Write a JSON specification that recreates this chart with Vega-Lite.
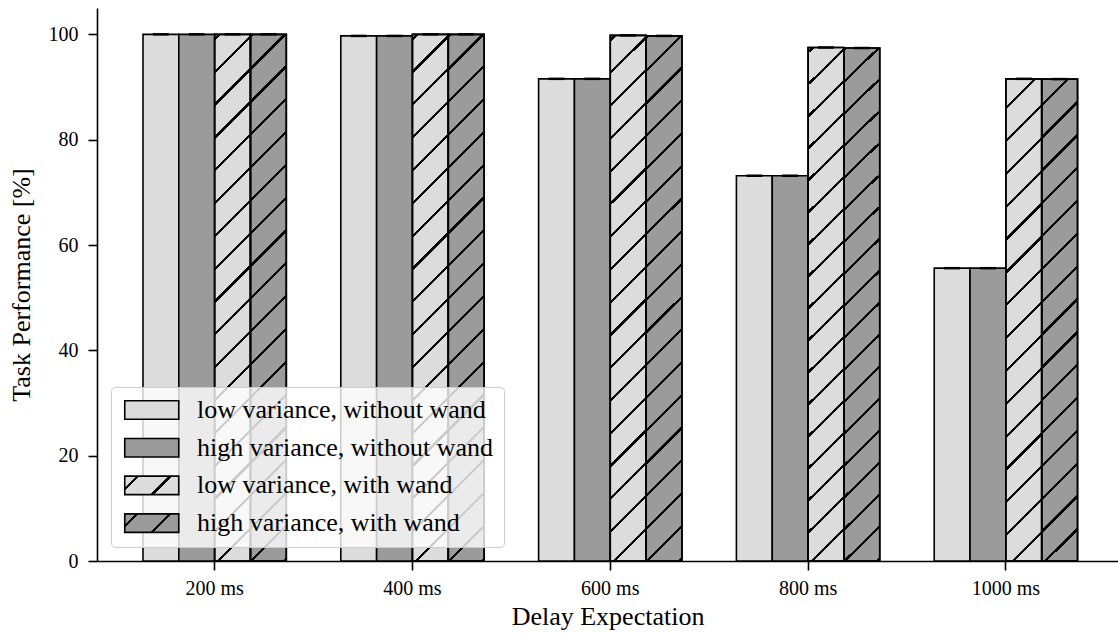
{
  "$schema": "https://vega.github.io/schema/vega-lite/v6.json",
  "width": 1021,
  "height": 553,
  "autosize": {"type": "none"},
  "padding": {"left": 97, "top": 8, "right": 0, "bottom": 74},
  "background": "white",
  "config": {
    "view": {"stroke": null},
    "font": "Liberation Serif",
    "axis": {"domainColor": "black", "domainWidth": 1.6, "tickColor": "black", "tickWidth": 1.6, "tickSize": 9, "labelFont": "Liberation Serif", "labelFontSize": 20, "labelColor": "black", "titleFont": "Liberation Serif", "titleFontSize": 26, "titleFontWeight": "normal", "titleColor": "black", "grid": false}
  },
  "data": {"values": [
    {"delay": "200 ms", "series": "low variance, without wand", "variance": "low", "wand": "without", "value": 100},
    {"delay": "200 ms", "series": "high variance, without wand", "variance": "high", "wand": "without", "value": 100},
    {"delay": "200 ms", "series": "low variance, with wand", "variance": "low", "wand": "with", "value": 100},
    {"delay": "200 ms", "series": "high variance, with wand", "variance": "high", "wand": "with", "value": 100},
    {"delay": "400 ms", "series": "low variance, without wand", "variance": "low", "wand": "without", "value": 99.7},
    {"delay": "400 ms", "series": "high variance, without wand", "variance": "high", "wand": "without", "value": 99.7},
    {"delay": "400 ms", "series": "low variance, with wand", "variance": "low", "wand": "with", "value": 100},
    {"delay": "400 ms", "series": "high variance, with wand", "variance": "high", "wand": "with", "value": 100},
    {"delay": "600 ms", "series": "low variance, without wand", "variance": "low", "wand": "without", "value": 91.55},
    {"delay": "600 ms", "series": "high variance, without wand", "variance": "high", "wand": "without", "value": 91.55},
    {"delay": "600 ms", "series": "low variance, with wand", "variance": "low", "wand": "with", "value": 99.8},
    {"delay": "600 ms", "series": "high variance, with wand", "variance": "high", "wand": "with", "value": 99.7},
    {"delay": "800 ms", "series": "low variance, without wand", "variance": "low", "wand": "without", "value": 73.15},
    {"delay": "800 ms", "series": "high variance, without wand", "variance": "high", "wand": "without", "value": 73.15},
    {"delay": "800 ms", "series": "low variance, with wand", "variance": "low", "wand": "with", "value": 97.5},
    {"delay": "800 ms", "series": "high variance, with wand", "variance": "high", "wand": "with", "value": 97.4},
    {"delay": "1000 ms", "series": "low variance, without wand", "variance": "low", "wand": "without", "value": 55.6},
    {"delay": "1000 ms", "series": "high variance, without wand", "variance": "high", "wand": "without", "value": 55.6},
    {"delay": "1000 ms", "series": "low variance, with wand", "variance": "low", "wand": "with", "value": 91.55},
    {"delay": "1000 ms", "series": "high variance, with wand", "variance": "high", "wand": "with", "value": 91.5}
  ]},
  "encoding": {
    "x": {"field": "delay", "type": "nominal", "scale": {"domain": ["200 ms", "400 ms", "600 ms", "800 ms", "1000 ms"], "paddingInner": 0.2754, "paddingOuter": 0.2185, "align": 0.532}, "axis": {"title": "Delay Expectation", "labelAngle": 0, "labelPadding": 8, "titlePadding": 5}},
    "xOffset": {"field": "series", "type": "nominal", "scale": {"domain": ["low variance, without wand", "high variance, without wand", "low variance, with wand", "high variance, with wand"], "paddingInner": 0, "paddingOuter": 0}},
    "y": {"field": "value", "type": "quantitative", "scale": {"domain": [0, 105], "nice": false}, "axis": {"title": "Task Performance [%]", "values": [0, 20, 40, 60, 80, 100], "labelPadding": 10, "titlePadding": 14}}
  },
  "layer": [
    {
      "mark": {"type": "bar", "stroke": "black", "strokeWidth": 1.6},
      "encoding": {
        "fill": {"field": "variance", "type": "nominal", "scale": {"domain": ["low", "high"], "range": ["#dcdcdc", "#9b9b9b"]}, "legend": null},
        "opacity": {
          "field": "series", "type": "nominal",
          "scale": {"type": "ordinal", "domain": ["low variance, without wand", "high variance, without wand", "low variance, with wand", "high variance, with wand"], "range": [1, 1, 1, 1]},
          "legend": {
            "title": null, "orient": "bottom-left", "offset": 14, "padding": 10,
            "fillColor": "rgba(255,255,255,0.8)", "strokeColor": "#cccccc", "cornerRadius": 4,
            "labelFont": "Liberation Serif", "labelFontSize": 26, "labelColor": "black", "labelLimit": 600,
            "symbolType": "M-1,-1H4.838V1H-1Z", "symbolSize": 342.25, "symbolStrokeColor": "black", "symbolStrokeWidth": 1.6,
            "labelOffset": 50, "rowPadding": 11.7,
            "symbolFillColor": {"expr": "datum.value === 'low variance, with wand' ? {gradient: 'linear', x1: 0, y1: 0, x2: 1.2017, y2: 0.41166, stops: [{offset: 0, color: '#dcdcdc'}, {offset: 0.1534, color: '#dcdcdc'}, {offset: 0.1534, color: '#000'}, {offset: 0.1975, color: '#000'}, {offset: 0.1975, color: '#dcdcdc'}, {offset: 0.6066, color: '#dcdcdc'}, {offset: 0.6066, color: '#000'}, {offset: 0.6507, color: '#000'}, {offset: 0.6507, color: '#dcdcdc'}, {offset: 1, color: '#dcdcdc'}]} : datum.value === 'high variance, with wand' ? {gradient: 'linear', x1: 0, y1: 0, x2: 1.2017, y2: 0.41166, stops: [{offset: 0, color: '#9b9b9b'}, {offset: 0.1534, color: '#9b9b9b'}, {offset: 0.1534, color: '#000'}, {offset: 0.1975, color: '#000'}, {offset: 0.1975, color: '#9b9b9b'}, {offset: 0.6066, color: '#9b9b9b'}, {offset: 0.6066, color: '#000'}, {offset: 0.6507, color: '#000'}, {offset: 0.6507, color: '#9b9b9b'}, {offset: 1, color: '#9b9b9b'}]} : datum.value === 'low variance, without wand' ? '#dcdcdc' : '#9b9b9b'"}
          }
        }
      }
    },
    {
      "transform": [{"filter": "datum.wand === 'with'"}],
      "mark": {"type": "bar", "stroke": "black", "strokeWidth": 1.6},
      "encoding": {
        "fill": {
          "condition": [
            {"test": "datum.delay === '1000 ms' && datum.variance === 'low'", "value": {"gradient": "linear", "x1": 0, "y1": 0, "x2": 0.07941, "y2": 1.06842, "stops": [
              {"offset": 0, "color": "rgba(0,0,0,0)"},
              {"offset": 0.05376, "color": "rgba(0,0,0,0)"}, {"offset": 0.05376, "color": "#000"}, {"offset": 0.05994, "color": "#000"}, {"offset": 0.05994, "color": "rgba(0,0,0,0)"},
              {"offset": 0.11718, "color": "rgba(0,0,0,0)"}, {"offset": 0.11718, "color": "#000"}, {"offset": 0.12336, "color": "#000"}, {"offset": 0.12336, "color": "rgba(0,0,0,0)"},
              {"offset": 0.1806, "color": "rgba(0,0,0,0)"}, {"offset": 0.1806, "color": "#000"}, {"offset": 0.18678, "color": "#000"}, {"offset": 0.18678, "color": "rgba(0,0,0,0)"},
              {"offset": 0.24401, "color": "rgba(0,0,0,0)"}, {"offset": 0.24401, "color": "#000"}, {"offset": 0.25019, "color": "#000"}, {"offset": 0.25019, "color": "rgba(0,0,0,0)"},
              {"offset": 0.30743, "color": "rgba(0,0,0,0)"}, {"offset": 0.30743, "color": "#000"}, {"offset": 0.31361, "color": "#000"}, {"offset": 0.31361, "color": "rgba(0,0,0,0)"},
              {"offset": 0.37085, "color": "rgba(0,0,0,0)"}, {"offset": 0.37085, "color": "#000"}, {"offset": 0.37703, "color": "#000"}, {"offset": 0.37703, "color": "rgba(0,0,0,0)"},
              {"offset": 0.43426, "color": "rgba(0,0,0,0)"}, {"offset": 0.43426, "color": "#000"}, {"offset": 0.44044, "color": "#000"}, {"offset": 0.44044, "color": "rgba(0,0,0,0)"},
              {"offset": 0.49768, "color": "rgba(0,0,0,0)"}, {"offset": 0.49768, "color": "#000"}, {"offset": 0.50386, "color": "#000"}, {"offset": 0.50386, "color": "rgba(0,0,0,0)"},
              {"offset": 0.5611, "color": "rgba(0,0,0,0)"}, {"offset": 0.5611, "color": "#000"}, {"offset": 0.56728, "color": "#000"}, {"offset": 0.56728, "color": "rgba(0,0,0,0)"},
              {"offset": 0.62451, "color": "rgba(0,0,0,0)"}, {"offset": 0.62451, "color": "#000"}, {"offset": 0.63069, "color": "#000"}, {"offset": 0.63069, "color": "rgba(0,0,0,0)"},
              {"offset": 0.68793, "color": "rgba(0,0,0,0)"}, {"offset": 0.68793, "color": "#000"}, {"offset": 0.69411, "color": "#000"}, {"offset": 0.69411, "color": "rgba(0,0,0,0)"},
              {"offset": 0.75135, "color": "rgba(0,0,0,0)"}, {"offset": 0.75135, "color": "#000"}, {"offset": 0.75753, "color": "#000"}, {"offset": 0.75753, "color": "rgba(0,0,0,0)"},
              {"offset": 0.81476, "color": "rgba(0,0,0,0)"}, {"offset": 0.81476, "color": "#000"}, {"offset": 0.82094, "color": "#000"}, {"offset": 0.82094, "color": "rgba(0,0,0,0)"},
              {"offset": 0.87818, "color": "rgba(0,0,0,0)"}, {"offset": 0.87818, "color": "#000"}, {"offset": 0.88436, "color": "#000"}, {"offset": 0.88436, "color": "rgba(0,0,0,0)"},
              {"offset": 0.9416, "color": "rgba(0,0,0,0)"}, {"offset": 0.9416, "color": "#000"}, {"offset": 0.94778, "color": "#000"}, {"offset": 0.94778, "color": "rgba(0,0,0,0)"},
              {"offset": 1, "color": "rgba(0,0,0,0)"}]}},
            {"test": "datum.delay === '1000 ms'", "value": {"gradient": "linear", "x1": 0, "y1": 0, "x2": 0.07941, "y2": 1.06842, "stops": [
              {"offset": 0, "color": "rgba(0,0,0,0)"},
              {"offset": 0.04701, "color": "rgba(0,0,0,0)"}, {"offset": 0.04701, "color": "#000"}, {"offset": 0.05319, "color": "#000"}, {"offset": 0.05319, "color": "rgba(0,0,0,0)"},
              {"offset": 0.11043, "color": "rgba(0,0,0,0)"}, {"offset": 0.11043, "color": "#000"}, {"offset": 0.11661, "color": "#000"}, {"offset": 0.11661, "color": "rgba(0,0,0,0)"},
              {"offset": 0.17384, "color": "rgba(0,0,0,0)"}, {"offset": 0.17384, "color": "#000"}, {"offset": 0.18002, "color": "#000"}, {"offset": 0.18002, "color": "rgba(0,0,0,0)"},
              {"offset": 0.23726, "color": "rgba(0,0,0,0)"}, {"offset": 0.23726, "color": "#000"}, {"offset": 0.24344, "color": "#000"}, {"offset": 0.24344, "color": "rgba(0,0,0,0)"},
              {"offset": 0.30068, "color": "rgba(0,0,0,0)"}, {"offset": 0.30068, "color": "#000"}, {"offset": 0.30686, "color": "#000"}, {"offset": 0.30686, "color": "rgba(0,0,0,0)"},
              {"offset": 0.36409, "color": "rgba(0,0,0,0)"}, {"offset": 0.36409, "color": "#000"}, {"offset": 0.37027, "color": "#000"}, {"offset": 0.37027, "color": "rgba(0,0,0,0)"},
              {"offset": 0.42751, "color": "rgba(0,0,0,0)"}, {"offset": 0.42751, "color": "#000"}, {"offset": 0.43369, "color": "#000"}, {"offset": 0.43369, "color": "rgba(0,0,0,0)"},
              {"offset": 0.49093, "color": "rgba(0,0,0,0)"}, {"offset": 0.49093, "color": "#000"}, {"offset": 0.49711, "color": "#000"}, {"offset": 0.49711, "color": "rgba(0,0,0,0)"},
              {"offset": 0.55434, "color": "rgba(0,0,0,0)"}, {"offset": 0.55434, "color": "#000"}, {"offset": 0.56052, "color": "#000"}, {"offset": 0.56052, "color": "rgba(0,0,0,0)"},
              {"offset": 0.61776, "color": "rgba(0,0,0,0)"}, {"offset": 0.61776, "color": "#000"}, {"offset": 0.62394, "color": "#000"}, {"offset": 0.62394, "color": "rgba(0,0,0,0)"},
              {"offset": 0.68118, "color": "rgba(0,0,0,0)"}, {"offset": 0.68118, "color": "#000"}, {"offset": 0.68736, "color": "#000"}, {"offset": 0.68736, "color": "rgba(0,0,0,0)"},
              {"offset": 0.74459, "color": "rgba(0,0,0,0)"}, {"offset": 0.74459, "color": "#000"}, {"offset": 0.75077, "color": "#000"}, {"offset": 0.75077, "color": "rgba(0,0,0,0)"},
              {"offset": 0.80801, "color": "rgba(0,0,0,0)"}, {"offset": 0.80801, "color": "#000"}, {"offset": 0.81419, "color": "#000"}, {"offset": 0.81419, "color": "rgba(0,0,0,0)"},
              {"offset": 0.87143, "color": "rgba(0,0,0,0)"}, {"offset": 0.87143, "color": "#000"}, {"offset": 0.87761, "color": "#000"}, {"offset": 0.87761, "color": "rgba(0,0,0,0)"},
              {"offset": 0.93484, "color": "rgba(0,0,0,0)"}, {"offset": 0.93484, "color": "#000"}, {"offset": 0.94102, "color": "#000"}, {"offset": 0.94102, "color": "rgba(0,0,0,0)"},
              {"offset": 1, "color": "rgba(0,0,0,0)"}]}},
            {"test": "datum.variance === 'low'", "value": {"gradient": "linear", "x1": 0, "y1": 0, "x2": 0.07232, "y2": 1.06311, "stops": [
              {"offset": 0, "color": "rgba(0,0,0,0)"},
              {"offset": 0.00595, "color": "rgba(0,0,0,0)"}, {"offset": 0.00595, "color": "#000"}, {"offset": 0.01164, "color": "#000"}, {"offset": 0.01164, "color": "rgba(0,0,0,0)"},
              {"offset": 0.06431, "color": "rgba(0,0,0,0)"}, {"offset": 0.06431, "color": "#000"}, {"offset": 0.07, "color": "#000"}, {"offset": 0.07, "color": "rgba(0,0,0,0)"},
              {"offset": 0.12267, "color": "rgba(0,0,0,0)"}, {"offset": 0.12267, "color": "#000"}, {"offset": 0.12836, "color": "#000"}, {"offset": 0.12836, "color": "rgba(0,0,0,0)"},
              {"offset": 0.18103, "color": "rgba(0,0,0,0)"}, {"offset": 0.18103, "color": "#000"}, {"offset": 0.18672, "color": "#000"}, {"offset": 0.18672, "color": "rgba(0,0,0,0)"},
              {"offset": 0.23939, "color": "rgba(0,0,0,0)"}, {"offset": 0.23939, "color": "#000"}, {"offset": 0.24508, "color": "#000"}, {"offset": 0.24508, "color": "rgba(0,0,0,0)"},
              {"offset": 0.29775, "color": "rgba(0,0,0,0)"}, {"offset": 0.29775, "color": "#000"}, {"offset": 0.30344, "color": "#000"}, {"offset": 0.30344, "color": "rgba(0,0,0,0)"},
              {"offset": 0.3561, "color": "rgba(0,0,0,0)"}, {"offset": 0.3561, "color": "#000"}, {"offset": 0.36179, "color": "#000"}, {"offset": 0.36179, "color": "rgba(0,0,0,0)"},
              {"offset": 0.41446, "color": "rgba(0,0,0,0)"}, {"offset": 0.41446, "color": "#000"}, {"offset": 0.42015, "color": "#000"}, {"offset": 0.42015, "color": "rgba(0,0,0,0)"},
              {"offset": 0.47282, "color": "rgba(0,0,0,0)"}, {"offset": 0.47282, "color": "#000"}, {"offset": 0.47851, "color": "#000"}, {"offset": 0.47851, "color": "rgba(0,0,0,0)"},
              {"offset": 0.53118, "color": "rgba(0,0,0,0)"}, {"offset": 0.53118, "color": "#000"}, {"offset": 0.53687, "color": "#000"}, {"offset": 0.53687, "color": "rgba(0,0,0,0)"},
              {"offset": 0.58954, "color": "rgba(0,0,0,0)"}, {"offset": 0.58954, "color": "#000"}, {"offset": 0.59523, "color": "#000"}, {"offset": 0.59523, "color": "rgba(0,0,0,0)"},
              {"offset": 0.6479, "color": "rgba(0,0,0,0)"}, {"offset": 0.6479, "color": "#000"}, {"offset": 0.65359, "color": "#000"}, {"offset": 0.65359, "color": "rgba(0,0,0,0)"},
              {"offset": 0.70626, "color": "rgba(0,0,0,0)"}, {"offset": 0.70626, "color": "#000"}, {"offset": 0.71195, "color": "#000"}, {"offset": 0.71195, "color": "rgba(0,0,0,0)"},
              {"offset": 0.76462, "color": "rgba(0,0,0,0)"}, {"offset": 0.76462, "color": "#000"}, {"offset": 0.77031, "color": "#000"}, {"offset": 0.77031, "color": "rgba(0,0,0,0)"},
              {"offset": 0.82298, "color": "rgba(0,0,0,0)"}, {"offset": 0.82298, "color": "#000"}, {"offset": 0.82867, "color": "#000"}, {"offset": 0.82867, "color": "rgba(0,0,0,0)"},
              {"offset": 0.88134, "color": "rgba(0,0,0,0)"}, {"offset": 0.88134, "color": "#000"}, {"offset": 0.88703, "color": "#000"}, {"offset": 0.88703, "color": "rgba(0,0,0,0)"},
              {"offset": 0.93969, "color": "rgba(0,0,0,0)"}, {"offset": 0.93969, "color": "#000"}, {"offset": 0.94538, "color": "#000"}, {"offset": 0.94538, "color": "rgba(0,0,0,0)"},
              {"offset": 0.99805, "color": "rgba(0,0,0,0)"}, {"offset": 0.99805, "color": "#000"}, {"offset": 1, "color": "#000"}]}}
          ],
          "value": {"gradient": "linear", "x1": 0, "y1": 0, "x2": 0.07232, "y2": 1.06311, "stops": [
            {"offset": 0.00062, "color": "#000"}, {"offset": 0.00631, "color": "#000"}, {"offset": 0.00631, "color": "rgba(0,0,0,0)"},
            {"offset": 0.05898, "color": "rgba(0,0,0,0)"}, {"offset": 0.05898, "color": "#000"}, {"offset": 0.06467, "color": "#000"}, {"offset": 0.06467, "color": "rgba(0,0,0,0)"},
            {"offset": 0.11734, "color": "rgba(0,0,0,0)"}, {"offset": 0.11734, "color": "#000"}, {"offset": 0.12303, "color": "#000"}, {"offset": 0.12303, "color": "rgba(0,0,0,0)"},
            {"offset": 0.1757, "color": "rgba(0,0,0,0)"}, {"offset": 0.1757, "color": "#000"}, {"offset": 0.18139, "color": "#000"}, {"offset": 0.18139, "color": "rgba(0,0,0,0)"},
            {"offset": 0.23406, "color": "rgba(0,0,0,0)"}, {"offset": 0.23406, "color": "#000"}, {"offset": 0.23975, "color": "#000"}, {"offset": 0.23975, "color": "rgba(0,0,0,0)"},
            {"offset": 0.29242, "color": "rgba(0,0,0,0)"}, {"offset": 0.29242, "color": "#000"}, {"offset": 0.29811, "color": "#000"}, {"offset": 0.29811, "color": "rgba(0,0,0,0)"},
            {"offset": 0.35077, "color": "rgba(0,0,0,0)"}, {"offset": 0.35077, "color": "#000"}, {"offset": 0.35646, "color": "#000"}, {"offset": 0.35646, "color": "rgba(0,0,0,0)"},
            {"offset": 0.40913, "color": "rgba(0,0,0,0)"}, {"offset": 0.40913, "color": "#000"}, {"offset": 0.41482, "color": "#000"}, {"offset": 0.41482, "color": "rgba(0,0,0,0)"},
            {"offset": 0.46749, "color": "rgba(0,0,0,0)"}, {"offset": 0.46749, "color": "#000"}, {"offset": 0.47318, "color": "#000"}, {"offset": 0.47318, "color": "rgba(0,0,0,0)"},
            {"offset": 0.52585, "color": "rgba(0,0,0,0)"}, {"offset": 0.52585, "color": "#000"}, {"offset": 0.53154, "color": "#000"}, {"offset": 0.53154, "color": "rgba(0,0,0,0)"},
            {"offset": 0.58421, "color": "rgba(0,0,0,0)"}, {"offset": 0.58421, "color": "#000"}, {"offset": 0.5899, "color": "#000"}, {"offset": 0.5899, "color": "rgba(0,0,0,0)"},
            {"offset": 0.64257, "color": "rgba(0,0,0,0)"}, {"offset": 0.64257, "color": "#000"}, {"offset": 0.64826, "color": "#000"}, {"offset": 0.64826, "color": "rgba(0,0,0,0)"},
            {"offset": 0.70093, "color": "rgba(0,0,0,0)"}, {"offset": 0.70093, "color": "#000"}, {"offset": 0.70662, "color": "#000"}, {"offset": 0.70662, "color": "rgba(0,0,0,0)"},
            {"offset": 0.75929, "color": "rgba(0,0,0,0)"}, {"offset": 0.75929, "color": "#000"}, {"offset": 0.76498, "color": "#000"}, {"offset": 0.76498, "color": "rgba(0,0,0,0)"},
            {"offset": 0.81765, "color": "rgba(0,0,0,0)"}, {"offset": 0.81765, "color": "#000"}, {"offset": 0.82334, "color": "#000"}, {"offset": 0.82334, "color": "rgba(0,0,0,0)"},
            {"offset": 0.876, "color": "rgba(0,0,0,0)"}, {"offset": 0.876, "color": "#000"}, {"offset": 0.88169, "color": "#000"}, {"offset": 0.88169, "color": "rgba(0,0,0,0)"},
            {"offset": 0.93436, "color": "rgba(0,0,0,0)"}, {"offset": 0.93436, "color": "#000"}, {"offset": 0.94005, "color": "#000"}, {"offset": 0.94005, "color": "rgba(0,0,0,0)"},
            {"offset": 0.99272, "color": "rgba(0,0,0,0)"}, {"offset": 0.99272, "color": "#000"}, {"offset": 0.99841, "color": "#000"}, {"offset": 0.99841, "color": "rgba(0,0,0,0)"},
            {"offset": 1, "color": "rgba(0,0,0,0)"}]}
        }
      }
    },
    {
      "mark": {"type": "tick", "color": "black", "size": 16, "thickness": 2.5, "opacity": 1},
      "encoding": {}
    }
  ]
}
